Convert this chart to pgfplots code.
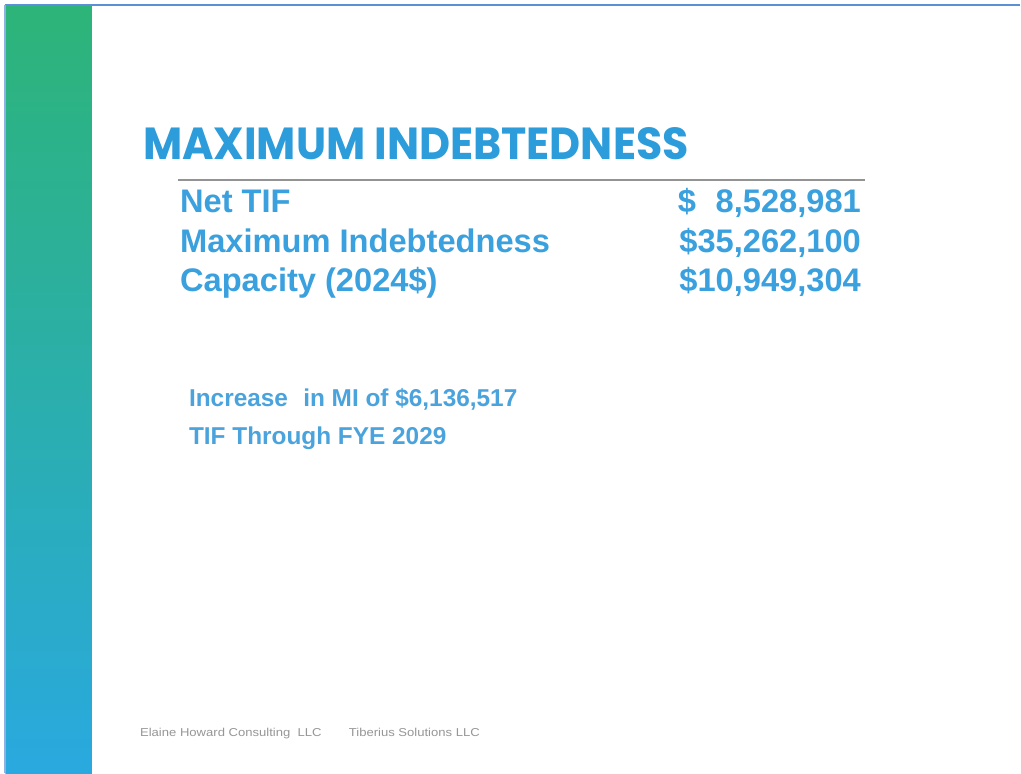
\documentclass[border=0pt]{standalone}
\usepackage{pgfplots}
\pgfplotsset{compat=1.18}
\usepackage{fontspec}
\setmainfont{Liberation Sans}
\newfontfamily\titlefont{Poppins}
\definecolor{titleblue}{RGB}{44,156,219}
\definecolor{rowblue}{RGB}{58,160,222}
\definecolor{noteblue}{RGB}{74,163,220}
\definecolor{topline}{RGB}{91,143,214}
\definecolor{bargreen}{RGB}{45,180,120}
\definecolor{barblue}{RGB}{41,169,223}
\definecolor{footgray}{RGB}{150,150,150}
\begin{document}
\begin{tikzpicture}
\begin{axis}[
  scale only axis, width=765.75pt, height=580.5pt,
  xmin=0, xmax=1021, ymin=0, ymax=774, y dir=reverse,
  hide axis, clip=false,
]
\path[fill=white] (axis cs:0,0) rectangle (axis cs:1021,774);
% gradient side bar
\addplot[draw=none, top color=bargreen, bottom color=barblue] coordinates {(5.5,6) (92,6) (92,774) (5.5,774)} -- cycle;
% frame lines
\addplot[topline, line width=1.6pt] coordinates {(5,5) (1021,5)};
\addplot[topline!70, line width=0.8pt] coordinates {(5,5) (5,774)};
% rule under title
\addplot[gray!85, line width=1.5pt] coordinates {(178,180) (866,180)};
% title
\node[anchor=base west, inner sep=0pt, text=titleblue] at (axis cs:143,160)
  {\resizebox{409.5pt}{24pt}{\titlefont\bfseries MAXIMUM INDEBTEDNESS}};
% rows
\node[anchor=base west, inner sep=0pt, text=rowblue, font=\fontsize{24.5}{29}\selectfont\bfseries] at (axis cs:180,213) {Net TIF};
\node[anchor=base west, inner sep=0pt, text=rowblue, font=\fontsize{24.5}{29}\selectfont\bfseries] at (axis cs:180,253) {Maximum Indebtedness};
\node[anchor=base west, inner sep=0pt, text=rowblue, font=\fontsize{24.5}{29}\selectfont\bfseries] at (axis cs:180,292) {Capacity (2024\$)};
\node[anchor=base east, inner sep=0pt, text=rowblue, font=\fontsize{24.5}{29}\selectfont\bfseries] at (axis cs:862,213) {\$\hspace{0.6em}8,528,981};
\node[anchor=base east, inner sep=0pt, text=rowblue, font=\fontsize{24.5}{29}\selectfont\bfseries] at (axis cs:862,253) {\$35,262,100};
\node[anchor=base east, inner sep=0pt, text=rowblue, font=\fontsize{24.5}{29}\selectfont\bfseries] at (axis cs:862,292) {\$10,949,304};
% notes
\node[anchor=base west, inner sep=0pt, text=noteblue, font=\fontsize{18.3}{22}\selectfont\bfseries] at (axis cs:189,407) {Increase\hspace{0.35em} in MI of \$6,136,517};
\node[anchor=base west, inner sep=0pt, text=noteblue, font=\fontsize{18.3}{22}\selectfont\bfseries] at (axis cs:189,445) {TIF Through FYE 2029};
% footer
\node[anchor=base west, inner sep=0pt, text=footgray] at (axis cs:140,737)
  {\scalebox{1.14}[1]{\fontsize{8.6}{10}\selectfont Elaine Howard Consulting\ \ LLC}};
\node[anchor=base west, inner sep=0pt, text=footgray] at (axis cs:349,737)
  {\scalebox{1.14}[1]{\fontsize{8.6}{10}\selectfont Tiberius Solutions LLC}};
\end{axis}
\end{tikzpicture}
\end{document}
